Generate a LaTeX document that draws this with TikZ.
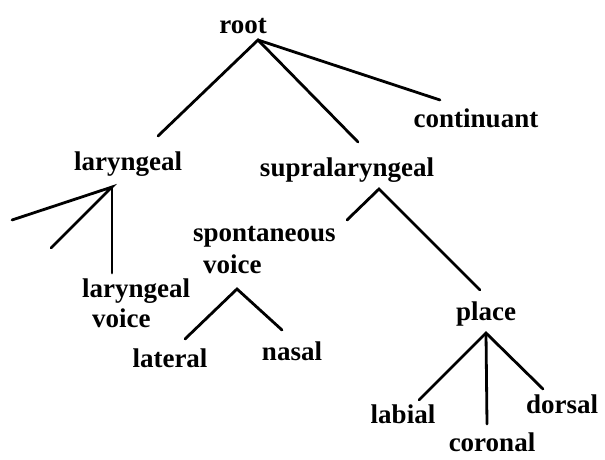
\documentclass[tikz,border=0pt]{standalone}
\usepackage{fontspec}
\setmainfont{Liberation Serif}
\begin{document}
\begin{tikzpicture}[x=1pt,y=-1pt,
  lbl/.style={inner sep=0pt, anchor=base, font=\bfseries\fontsize{27}{30}\selectfont},
  lblw/.style={lbl, anchor=base west},
  edge/.style={line width=2.8pt, line cap=round}]
\useasboundingbox (0,0) rectangle (605,459);
% labels (placed by their baselines)
\node[lbl] (root) at (243,33) {root};
\node[lbl] (cont) at (476,127) {continuant};
\node[lbl] (lar) at (128,170) {laryngeal};
\node[lbl] (supra) at (347,176) {supralaryngeal};
\node[lblw] (spv1) at (193,241) {spontaneous};
\node[lblw] (spv2) at (203,273) {voice};
\node[lblw] (lv1) at (82,297) {laryngeal};
\node[lblw] (lv2) at (92,327) {voice};
\node[lbl] (lat) at (170,367) {lateral};
\node[lbl] (nas) at (292,360) {nasal};
\node[lbl] (place) at (486,320) {place};
\node[lbl] (lab) at (403,423) {labial};
\node[lbl] (cor) at (492,451) {coronal};
\node[lbl] (dor) at (562,413) {dorsal};
% branching points
\coordinate (rootj) at (258,40);
\coordinate (larj) at (112,187);
\coordinate (supj) at (379,189);
\coordinate (spvj) at (237,289);
\coordinate (plcj) at (486,333);
% line ends
\coordinate (e-lar) at (158,136);
\coordinate (e-sup) at (358,142);
\coordinate (e-cont) at (440,100);
\coordinate (e-x1) at (12,220);
\coordinate (e-x2) at (51,248);
\coordinate (e-lv) at (112,273);
\coordinate (e-spv) at (347,220);
\coordinate (e-plc) at (480,290);
\coordinate (e-lat) at (185,339);
\coordinate (e-nas) at (282,330);
\coordinate (e-lab) at (419,400);
\coordinate (e-cor) at (487,424);
\coordinate (e-dor) at (543,389);
% connectors
\draw[edge] (e-lar) -- (rootj) -- (e-sup);
\draw[edge] (rootj) -- (e-cont);
\draw[edge] (e-x1) -- (larj) -- (e-x2);
\draw[edge] (larj) -- (e-lv);
\draw[edge] (e-spv) -- (supj) -- (e-plc);
\draw[edge] (e-lat) -- (spvj) -- (e-nas);
\draw[edge] (e-lab) -- (plcj) -- (e-dor);
\draw[edge] (plcj) -- (e-cor);
\end{tikzpicture}
\end{document}
